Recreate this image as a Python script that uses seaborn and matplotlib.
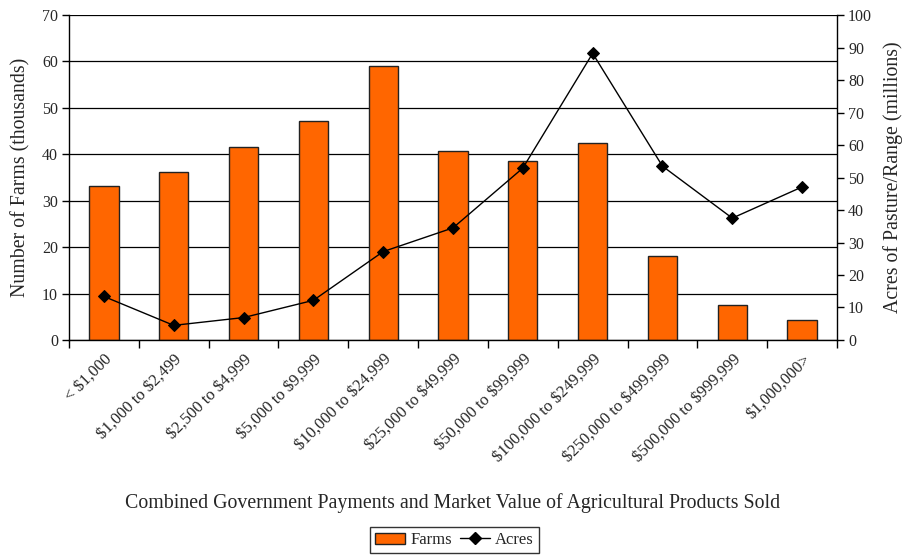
import numpy as np
import matplotlib
matplotlib.use("Agg")
import matplotlib.pyplot as plt
import matplotlib.transforms as mtransforms
from matplotlib.patches import Patch
from matplotlib.lines import Line2D
import seaborn as sns

# Sales classes (government payments + market value of products sold)
categories = ["< $1,000", "$1,000 to $2,499", "$2,500 to $4,999", "$5,000 to $9,999",
              "$10,000 to $24,999", "$25,000 to $49,999", "$50,000 to $99,999",
              "$100,000 to $249,999", "$250,000 to $499,999", "$500,000 to $999,999",
              "$1,000,000>"]
# Number of farms (thousands)
farms = [33.2, 36.2, 41.5, 47.1, 59.0, 40.7, 38.5, 42.5, 18.0, 7.6, 4.3]
# Acres of pasture/range (millions)
acres = [13.4, 4.5, 6.9, 12.2, 27.2, 34.5, 52.9, 88.2, 53.5, 37.5, 47.1]

left_ticks = list(range(0, 71, 10))
right_ticks = list(range(0, 101, 10))

sns.set_theme(style="white")
plt.rcParams["font.family"] = ["Liberation Serif", "DejaVu Serif"]

bar_color = "#FF6600"
edge = "#222222"

fig = plt.figure(figsize=(9.09, 5.57), dpi=100)
ax = fig.add_axes([0.0759, 0.3896, 0.8449, 0.5834])

sns.barplot(x=categories, y=farms, color=bar_color, edgecolor=edge,
            linewidth=1.0, width=0.42, saturation=1, ax=ax, zorder=2)

ax.set_ylim(0, 70)
ax.set_yticks(left_ticks)
ax.set_xlim(-0.5, len(categories) - 0.5)
ax.yaxis.grid(True, color="black", linewidth=0.9, zorder=0)
ax.set_axisbelow(True)
for s in ["top", "right"]:
    ax.spines[s].set_visible(False)
for s in ["left", "bottom"]:
    ax.spines[s].set_color("black")
    ax.spines[s].set_linewidth(1.0)

# dollar signs escaped so they are not read as mathtext
ax.set_xticks(range(len(categories)))
ax.set_xticklabels([c.replace("$", r"\$") for c in categories], rotation=45,
                   ha="right", va="top", rotation_mode="anchor", fontsize=12)
shift = mtransforms.ScaledTranslation(-8 / 100, -3 / 100, fig.dpi_scale_trans)
for lbl in ax.get_xticklabels():
    lbl.set_transform(lbl.get_transform() + shift)
ax.tick_params(axis="x", which="major", length=0, pad=8)
ax.set_xticks(np.arange(-0.5, len(categories), 1.0), minor=True)
ax.tick_params(axis="x", which="minor", length=6, width=1, color="black",
               direction="out", bottom=True)
ax.tick_params(axis="y", length=5, width=1, color="black", direction="out",
               left=True, labelsize=11.5, pad=3)
ax.set_ylabel("Number of Farms (thousands)", fontsize=14.3, labelpad=8)
ax.set_xlabel("Combined Government Payments and Market Value of Agricultural Products Sold",
              fontsize=14.3, labelpad=20)

ax2 = ax.twinx()
sns.pointplot(x=categories, y=acres, color="black", markers="D", errorbar=None,
              markersize=6, linewidth=1.0, ax=ax2, zorder=5)
ax2.set_ylim(0, 100)
ax2.set_yticks(right_ticks)
ax2.set_xlim(-0.5, len(categories) - 0.5)
ax2.set_xlabel("")
ax2.grid(False)
for s in ["top", "left", "bottom"]:
    ax2.spines[s].set_visible(False)
ax2.spines["right"].set_color("black")
ax2.spines["right"].set_linewidth(1.0)
ax2.tick_params(axis="y", length=5, width=1, color="black", direction="out",
                right=True, labelsize=11.5, pad=3)
ax2.tick_params(axis="x", bottom=False, labelbottom=False)
ax2.set_ylabel("Acres of Pasture/Range (millions)", fontsize=14.3, labelpad=8)

handles = [Patch(facecolor=bar_color, edgecolor=edge, linewidth=1.0, label="Farms"),
           Line2D([], [], color="black", marker="D", markersize=6, linewidth=1.0, label="Acres")]
leg = fig.legend(handles=handles, loc="center", bbox_to_anchor=(0.5, 0.03), ncol=2,
                 frameon=True, fancybox=False, fontsize=12, handlelength=1.8,
                 columnspacing=0.5, handletextpad=0.3, borderpad=0.3)
leg.get_frame().set_edgecolor("black")
leg.get_frame().set_linewidth(1.0)

fig.savefig("out.png", dpi=100)
